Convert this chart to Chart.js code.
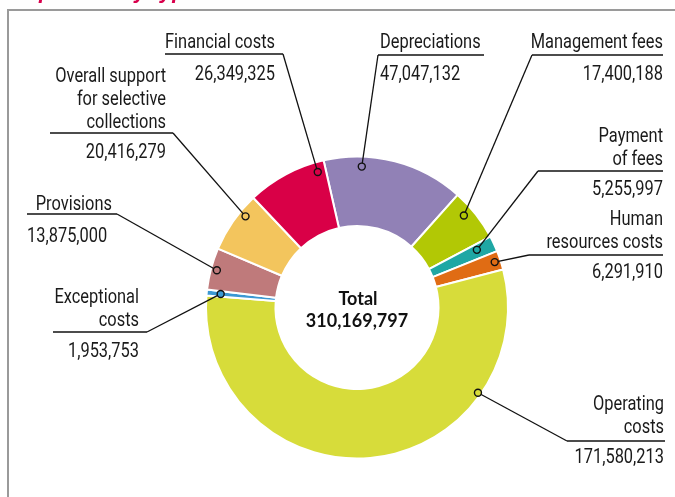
<!DOCTYPE html>
<html lang="en">
<head>
    <meta charset="UTF-8">
    <title>Breakdown of costs</title>
    <script src="https://cdn.jsdelivr.net/npm/chart.js"></script>
    <style>
        html, body {
            margin: 0;
            padding: 0;
            background-color: #fff;
        }
        .chart-container {
            position: relative;
            width: 675px;
            height: 497px;
        }
    </style>
</head>
<body>
    <div class="chart-container">
        <canvas id="costsChart"></canvas>
    </div>

    <script>
        // categories, clockwise from the top
        const categories = [
            'Depreciations',
            'Management fees',
            'Payment\nof fees',
            'Human\nresources costs',
            'Operating\ncosts',
            'Exceptional\ncosts',
            'Provisions',
            'Overall support\nfor selective\ncollections',
            'Financial costs'
        ];
        const amounts = [47047132, 17400188, 5255997, 6291910, 171580213, 1953753, 13875000, 20416279, 26349325];
        const totalLabel = 'Total';
        const total = amounts.reduce((a, b) => a + b, 0);

        const colors = ['#9181b6', '#b2c805', '#1fa7a4', '#e06c14', '#d7dc3a', '#3b98d3', '#bf7a7b', '#f3c55d', '#d90047'];

        // where each label sits (one entry per category)
        const labelLayout = [
            { x: 380, align: 'left',  y: 48,  lineY: 55,  x0: 378, x1: 484, elbow: 'left',  valueY: 80,  frac: 0.27, inset: 10 },
            { x: 663, align: 'right', y: 48,  lineY: 55,  x0: 532, x1: 663, elbow: 'left',  valueY: 80,  frac: 0.37, inset: 10 },
            { x: 663, align: 'right', y: 142, lineY: 171, x0: 538, x1: 663, elbow: 'left',  valueY: 195, frac: 0.38, inset: 18 },
            { x: 663, align: 'right', y: 225, lineY: 255, x0: 529, x1: 663, elbow: 'left',  valueY: 278, frac: 0.5,  inset: 6 },
            { x: 664, align: 'right', y: 410, lineY: 441, x0: 567, x1: 665, elbow: 'left',  valueY: 463, frac: 0.25, inset: 3 },
            { x: 139, align: 'right', y: 303, lineY: 332, x0: 53,  x1: 147, elbow: 'right', valueY: 357, frac: 0.5,  inset: 14 },
            { x: 112, align: 'right', y: 210, lineY: 214, x0: 27,  x1: 117, elbow: 'right', valueY: 242, frac: 0.5,  inset: 6, valueX: 27, valueAlign: 'left' },
            { x: 166, align: 'right', y: 82,  lineY: 133, x0: 50,  x1: 173, elbow: 'right', valueY: 158, frac: 0.69, inset: 7 },
            { x: 275, align: 'right', y: 48,  lineY: 54,  x0: 165, x1: 283, elbow: 'right', valueY: 80,  frac: 0.89, inset: 10 }
        ];

        const labelFont = '19.5px Roboto, "Liberation Sans", sans-serif';
        const lineHeight = 23;

        function fmt(n) {
            return n.toLocaleString('en-US');
        }

        // draws condensed text by squeezing it horizontally
        function narrowText(ctx, text, x, y, align, squeeze) {
            const w = ctx.measureText(text).width * squeeze;
            let left = x;
            if (align === 'right') left = x - w;
            else if (align === 'center') left = x - w / 2;
            ctx.save();
            ctx.translate(left, y);
            ctx.scale(squeeze, 1);
            ctx.textAlign = 'left';
            ctx.fillText(text, 0, 0);
            ctx.restore();
        }

        const calloutPlugin = {
            id: 'callouts',
            beforeDraw(chart) {
                const ctx = chart.ctx;
                ctx.save();
                // cut-off heading above the frame
                ctx.fillStyle = '#d9004c';
                ctx.font = 'italic bold 22px "Liberation Sans", sans-serif';
                ctx.textAlign = 'left';
                ctx.textBaseline = 'alphabetic';
                ctx.fillText('Expenses by type', 12, -2);
                // frame
                ctx.strokeStyle = '#9a9a9a';
                ctx.lineWidth = 2;
                ctx.beginPath();
                ctx.moveTo(8, 500);
                ctx.lineTo(8, 10);
                ctx.lineTo(680, 10);
                ctx.stroke();
                ctx.restore();
            },
            afterDraw(chart) {
                const ctx = chart.ctx;
                const arcs = chart.getDatasetMeta(0).data;
                ctx.save();
                ctx.font = labelFont;
                const squeeze = 110 / ctx.measureText('Financial costs').width;
                arcs.forEach((arc, i) => {
                    const lay = labelLayout[i];
                    const a = arc.startAngle + lay.frac * (arc.endAngle - arc.startAngle);
                    const r = arc.outerRadius - lay.inset;
                    const px = arc.x + Math.cos(a) * r;
                    const py = arc.y + Math.sin(a) * r;
                    const ex = lay.elbow === 'left' ? lay.x0 : lay.x1;

                    // leader + underline
                    ctx.strokeStyle = '#111';
                    ctx.lineWidth = 1.3;
                    ctx.beginPath();
                    ctx.moveTo(px, py);
                    ctx.lineTo(ex, lay.lineY);
                    ctx.stroke();
                    ctx.beginPath();
                    ctx.moveTo(lay.x0, lay.lineY);
                    ctx.lineTo(lay.x1, lay.lineY);
                    ctx.stroke();

                    // dot
                    ctx.fillStyle = colors[i];
                    ctx.lineWidth = 1.4;
                    ctx.beginPath();
                    ctx.arc(px, py, 3.5, 0, Math.PI * 2);
                    ctx.fill();
                    ctx.stroke();

                    // texts
                    ctx.fillStyle = '#1a1a1a';
                    ctx.font = labelFont;
                    ctx.textBaseline = 'alphabetic';
                    categories[i].split('\n').forEach((line, k) => {
                        narrowText(ctx, line, lay.x, lay.y + k * lineHeight, lay.align, squeeze);
                    });
                    narrowText(ctx, fmt(amounts[i]), lay.valueX || lay.x, lay.valueY, lay.valueAlign || lay.align, squeeze);
                });

                // total in the hole
                const c = arcs[0];
                ctx.fillStyle = '#111';
                ctx.textAlign = 'center';
                ctx.font = 'bold 18px Lato, sans-serif';
                ctx.fillText(totalLabel, c.x + 1, 305);
                ctx.fillText(fmt(total), c.x, 327);
                ctx.restore();
            }
        };

        new Chart(document.getElementById('costsChart'), {
            type: 'doughnut',
            data: {
                labels: categories,
                datasets: [{
                    data: amounts,
                    backgroundColor: colors,
                    borderColor: '#fff',
                    borderWidth: 2
                }]
            },
            options: {
                responsive: true,
                maintainAspectRatio: false,
                animation: false,
                rotation: -12.8,
                cutout: '54%',
                layout: {
                    padding: { left: 205, right: 166, top: 155.5, bottom: 37.5 }
                },
                plugins: {
                    legend: { display: false },
                    tooltip: { enabled: false }
                }
            },
            plugins: [calloutPlugin]
        });
    </script>
</body>
</html>
